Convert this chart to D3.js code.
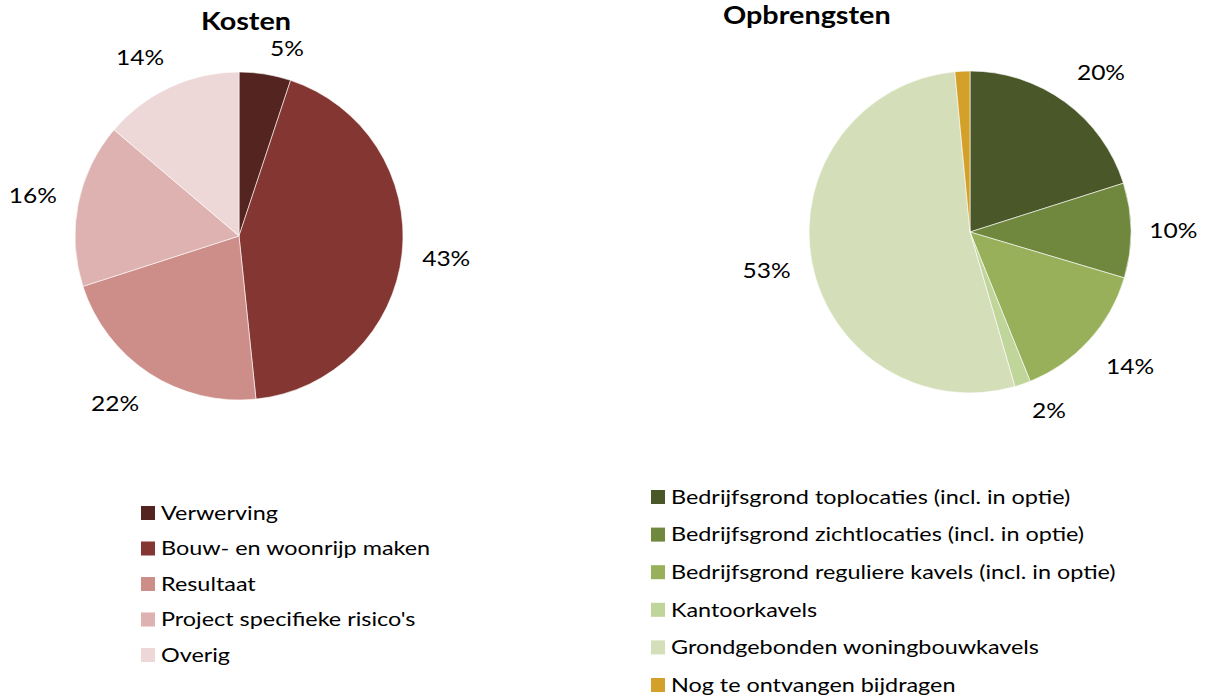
<!DOCTYPE html>
<html>
<head>
<meta charset="utf-8">
<script src="https://cdn.jsdelivr.net/npm/d3@7"></script>
<style>
  body { margin: 0; background: #fff; }
  svg text { font-family: Lato, "Open Sans", sans-serif; fill: #000; }
</style>
</head>
<body>
<div id="chart"></div>
<script>
"use strict";

// Kosten
const kostenCategories = ["Verwerving", "Bouw- en woonrijp maken", "Resultaat", "Project specifieke risico's", "Overig"];
const kostenValues = [5.1, 43.3, 21.7, 16.2, 13.8];
const kostenLabels = ["5%", "43%", "22%", "16%", "14%"];
const kostenColors = ["#532420", "#843732", "#cd8d88", "#ddb2b0", "#edd8d7"];

// Opbrengsten
const opbrCategories = [
  "Bedrijfsgrond toplocaties (incl. in optie)",
  "Bedrijfsgrond zichtlocaties (incl. in optie)",
  "Bedrijfsgrond reguliere kavels (incl. in optie)",
  "Kantoorkavels",
  "Grondgebonden woningbouwkavels",
  "Nog te ontvangen bijdragen"
];
const opbrValues = [20.1, 9.5, 14.3, 1.6, 53.0, 1.5];
const opbrLabels = ["20%", "10%", "14%", "2%", "53%", ""];
const opbrColors = ["#4a5728", "#70873e", "#98b05a", "#c0d59a", "#d4dfb9", "#d3a12a"];

const W = 1208, H = 696;
const STRETCH = 1.2; // Lato is narrower than the original Calibri-like face

const svg = d3.select("#chart").append("svg")
  .attr("width", W)
  .attr("height", H);

svg.append("rect").attr("width", W).attr("height", H).attr("fill", "#fff");

// text placed at (x,y) but widened horizontally
function wideText(parent, x, y, str, size, anchor, sx) {
  const t = parent.append("g")
    .attr("transform", `translate(${x},${y}) scale(${sx},1)`)
    .append("text")
    .attr("text-anchor", anchor || "start")
    .style("font-size", size + "px")
    .text(str);
  return t;
}

function drawPie(cfg) {
  const pie = d3.pie().sort(null).value(d => d.value);
  const arcs = pie(cfg.values.map((v, i) => ({ value: v, label: cfg.labels[i], color: cfg.colors[i] })));

  const arc = d3.arc().innerRadius(0).outerRadius(cfg.r);

  const g = svg.append("g").attr("transform", `translate(${cfg.cx},${cfg.cy})`);

  g.selectAll("path.slice")
    .data(arcs)
    .enter().append("path")
    .attr("class", "slice")
    .attr("d", arc)
    .attr("fill", d => d.data.color)
    .attr("stroke", "#fff")
    .attr("stroke-width", 0.6);

  // data labels: box kept a gap away from the rim, pushed sideways near top/bottom (Excel best fit-ish)
  const pctSize = 21, pctStretch = 1.17, gap = 18, halfH = 5, push = 18;
  arcs.filter(d => d.data.label).forEach(d => {
    const a = (d.startAngle + d.endAngle) / 2;
    const t = wideText(g, 0, 0, d.data.label, pctSize, "middle", pctStretch).attr("dy", "0.36em");
    const w = t.node().getComputedTextLength() * pctStretch;
    const s = Math.sin(a), c = Math.cos(a);
    const dist = cfg.r + gap + Math.abs(s) * w / 2 + Math.abs(c) * halfH;
    const x = s * dist + Math.sign(s) * Math.abs(c) * push;
    const y = -c * dist;
    d3.select(t.node().parentNode)
      .attr("transform", `translate(${x},${y}) scale(${pctStretch},1)`);
  });

  wideText(svg, cfg.titleX, cfg.titleY, cfg.title, 24, cfg.titleAnchor, STRETCH)
    .style("font-weight", "bold");

  // legend
  const leg = svg.append("g").attr("transform", `translate(${cfg.legX},${cfg.legY})`);
  cfg.categories.forEach((c, i) => {
    const row = leg.append("g").attr("transform", `translate(0,${i * cfg.legStep})`);
    row.append("rect")
      .attr("x", 0)
      .attr("y", -7)
      .attr("width", 14)
      .attr("height", 14)
      .attr("fill", cfg.colors[i]);
    wideText(row, 20, 0, c, 19.5, "start", STRETCH).attr("dy", "0.35em");
  });
}

drawPie({
  title: "Kosten", titleX: 246, titleY: 30, titleAnchor: "middle",
  cx: 239, cy: 236, r: 164,
  values: kostenValues, labels: kostenLabels, colors: kostenColors, categories: kostenCategories,
  legX: 141, legY: 513, legStep: 35.5
});

drawPie({
  title: "Opbrengsten", titleX: 723, titleY: 24, titleAnchor: "start",
  cx: 970, cy: 232, r: 161,
  values: opbrValues, labels: opbrLabels, colors: opbrColors, categories: opbrCategories,
  legX: 651, legY: 497, legStep: 37.6
});
</script>
</body>
</html>
